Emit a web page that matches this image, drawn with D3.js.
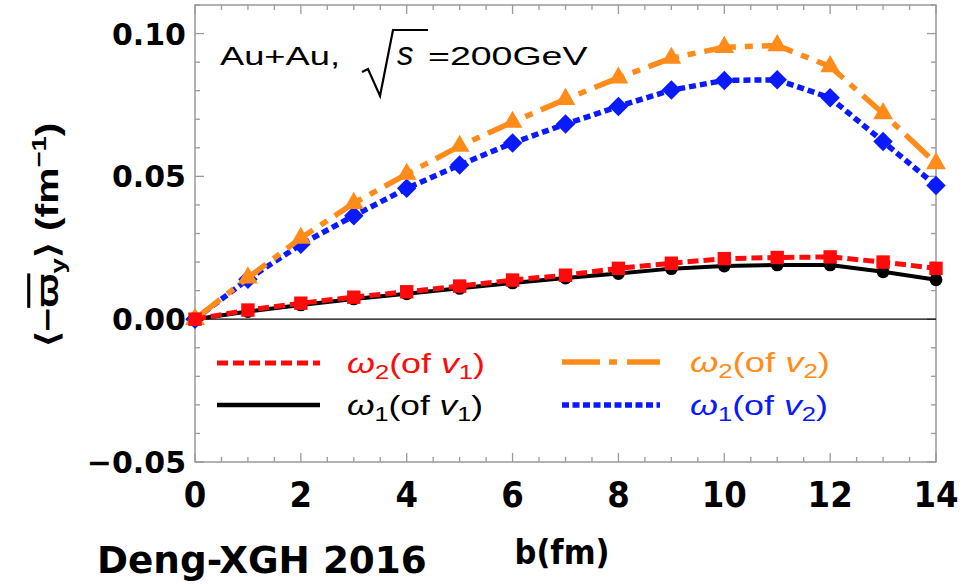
<!DOCTYPE html>
<html><head><meta charset="utf-8">
<script src="https://cdn.jsdelivr.net/npm/d3@7"></script>
<style>body{margin:0;background:#fff}svg{display:block}</style>
</head><body>
<svg id="c" width="967" height="584"></svg>
<script>
const bValues = [0,1,2,3,4,5,6,7,8,9,10,11,12,13,14];
const w2v2 = [0,0.0145,0.0284,0.0406,0.0508,0.0606,0.0690,0.0770,0.0845,0.0914,0.0952,0.0958,0.0885,0.0720,0.0545];
const w1v2 = [0,0.0140,0.0262,0.0362,0.0458,0.0540,0.0617,0.0683,0.0745,0.0802,0.0836,0.0838,0.0775,0.0622,0.0468];
const w2v1 = [0,0.0032,0.0056,0.0077,0.0096,0.0116,0.0137,0.0154,0.0178,0.0196,0.0212,0.0216,0.0218,0.0200,0.0178];
const w1v1 = [0,0.0027,0.0050,0.0071,0.0089,0.0108,0.0127,0.0144,0.0160,0.0177,0.0186,0.0190,0.0190,0.0166,0.0138];
const xMajor = [0,2,4,6,8,10,12,14];
const yMajor = [-0.05,0,0.05,0.10];
const yLabels = ["\u22120.05","0.00","0.05","0.10"];

const svg = d3.select("#c");
const x = d3.scaleLinear().domain([0,14]).range([195,936]);
const y = d3.scaleLinear().domain([-0.05,0.11]).range([462,5]);
const frameCol = "#9a9a9a";

function fitG(g, x0, y0, target, rotate){
  const w = g.node().getBBox().width;
  const s = target / w;
  g.attr("transform", rotate ? `translate(${x0},${y0}) rotate(-90) scale(${s},1)` : `translate(${x0},${y0}) scale(${s},1)`);
}

// frame
svg.append("rect").attr("x",195).attr("y",5).attr("width",741).attr("height",457)
  .attr("fill","none").attr("stroke",frameCol).attr("stroke-width",1.5);

const xMinor = d3.range(0,14.01,0.5);
const yMinor = d3.range(-0.05,0.1101,0.01).map(v=>+v.toFixed(3));
const isMajX = v => Math.abs(v/2 - Math.round(v/2))<1e-6;
const isMajY = v => Math.abs(v/0.05 - Math.round(v/0.05))<1e-6;
const tg = svg.append("g").attr("stroke",frameCol).attr("stroke-width",1.3);
xMinor.forEach(v=>{
  const L = isMajX(v)?9:5;
  tg.append("line").attr("x1",x(v)).attr("x2",x(v)).attr("y1",462).attr("y2",462-L);
  tg.append("line").attr("x1",x(v)).attr("x2",x(v)).attr("y1",5).attr("y2",5+L);
});
yMinor.forEach(v=>{
  const L = isMajY(v)?9:5;
  tg.append("line").attr("y1",y(v)).attr("y2",y(v)).attr("x1",195).attr("x2",195+L);
  tg.append("line").attr("y1",y(v)).attr("y2",y(v)).attr("x1",936).attr("x2",936-L);
});

// tick labels
svg.append("g").selectAll("text").data(xMajor).join("text")
  .attr("x",d=>x(d)).attr("y",507).attr("text-anchor","middle")
  .attr("font-family","DejaVu Sans Condensed, DejaVu Sans").attr("font-stretch","condensed")
  .attr("font-weight","bold").attr("font-size",36).attr("fill","#000").text(d=>d);
svg.append("g").selectAll("text").data(yMajor).join("text")
  .attr("x",186).attr("y",d=>y(d)+11).attr("text-anchor","end")
  .attr("font-family","DejaVu Sans").attr("font-weight","bold").attr("font-size",30)
  .attr("fill","#000").text((d,i)=>yLabels[i]);

// zero line
svg.append("line").attr("x1",x(0)).attr("x2",x(14)).attr("y1",y(0)).attr("y2",y(0))
  .attr("stroke","#000").attr("stroke-width",1.2);

const diamond = {draw(ctx,size){const r=Math.sqrt(size/2);ctx.moveTo(0,-r);ctx.lineTo(r,0);ctx.lineTo(0,r);ctx.lineTo(-r,0);ctx.closePath();}};
const series = [
  {vals:w1v2, color:"#0a1aff", dash:"7,4", width:5.5, marker:diamond, size:190},
  {vals:w2v2, color:"#ff8c1a", dash:"32,9,8,9", width:5.5, marker:d3.symbolTriangle, size:170},
  {vals:w1v1, color:"#000000", dash:null, width:4, marker:d3.symbolCircle, size:130},
  {vals:w2v1, color:"#ff0a0a", dash:"11,5", width:5, marker:d3.symbolSquare, size:180}
];
const line = d3.line().x((d,i)=>x(bValues[i])).y(d=>y(d));
series.forEach(s=>{
  const g = svg.append("g");
  g.append("path").attr("d",line(s.vals)).attr("fill","none").attr("stroke",s.color)
    .attr("stroke-width",s.width).attr("stroke-dasharray",s.dash);
  g.selectAll("path.m").data(s.vals).join("path").attr("class","m")
    .attr("transform",(d,i)=>`translate(${x(bValues[i])},${y(d)})`)
    .attr("d",d3.symbol().type(s.marker).size(s.size)).attr("fill",s.color);
});

// annotation
const a1 = svg.append("g");
a1.append("text").attr("font-family","Liberation Sans, Arial").attr("font-size",25).text("Au+Au,");
fitG(a1,220,65,120);
svg.append("path").attr("d","M362,72 L368,69 L380,96 L393,30 L428,30").attr("fill","none")
  .attr("stroke","#000").attr("stroke-width",2.2).attr("stroke-linejoin","miter");
svg.append("text").attr("x",397).attr("y",65).attr("font-family","Liberation Sans, Arial")
  .attr("font-style","italic").attr("font-size",33).text("s");
const a2 = svg.append("g");
a2.append("text").attr("font-family","Liberation Sans, Arial").attr("font-size",25).text("=200GeV");
fitG(a2,428,65,160);

// legend
const leg = [
  {x1:217,x2:320,y:363,color:"#ff0a0a",dash:"11,5",w:5,tx:347,tw:138,sub:"2",v:"1"},
  {x1:217,x2:320,y:405,color:"#000",dash:null,w:4.5,tx:347,tw:136,sub:"1",v:"1"},
  {x1:562,x2:660,y:362,color:"#ff8c1a",dash:"38,9,8,10",w:5.5,tx:690,tw:140,sub:"2",v:"2"},
  {x1:562,x2:660,y:405,color:"#0a1aff",dash:"7,3.5",w:5.5,tx:690,tw:138,sub:"1",v:"2"}
];
leg.forEach(l=>{
  svg.append("line").attr("x1",l.x1).attr("x2",l.x2).attr("y1",l.y).attr("y2",l.y)
    .attr("stroke",l.color).attr("stroke-width",l.w).attr("stroke-dasharray",l.dash);
  const g = svg.append("g");
  const t = g.append("text").attr("font-family","Liberation Sans, Arial")
    .attr("font-size",28).attr("fill",l.color);
  t.append("tspan").attr("font-style","italic").text("\u03C9");
  t.append("tspan").attr("font-size",20).attr("dy",6).text(l.sub);
  t.append("tspan").attr("dy",-6).text("(of ");
  t.append("tspan").attr("font-style","italic").text("v");
  t.append("tspan").attr("font-size",20).attr("dy",6).text(l.v);
  t.append("tspan").attr("dy",-6).text(")");
  fitG(g,l.tx,l.y+10,l.tw);
});

// y-axis label
const ylg = svg.append("g");
const yl = ylg.append("text").attr("text-anchor","middle").attr("font-family","Liberation Sans, Arial").attr("font-weight","bold")
  .attr("font-size",31).attr("fill","#000");
yl.append("tspan").text("\u27E8\u2212");
yl.append("tspan").style("text-decoration","overline").text("\u03D6");
yl.append("tspan").attr("font-size",21).attr("dy",7).text("y");
yl.append("tspan").attr("dy",-7).text("\u27E9 (fm");
yl.append("tspan").attr("font-size",21).attr("dy",-12).text("\u22121");
yl.append("tspan").attr("dy",12).text(")");
fitG(ylg,58,235,225,true);

// x-axis label
const xlg = svg.append("g");
xlg.append("text").attr("text-anchor","middle")
  .attr("font-family","DejaVu Sans Condensed, DejaVu Sans").attr("font-stretch","condensed")
  .attr("font-weight","bold").attr("font-size",33).attr("fill","#000").text("b(fm)");
fitG(xlg,562,564,95);

// credit
const cg = svg.append("g");
cg.append("text").attr("font-family","DejaVu Sans").attr("font-weight","bold").attr("font-size",38)
  .attr("fill","#000").text("Deng-XGH 2016");
fitG(cg,97,573,330);
</script>
</body></html>
